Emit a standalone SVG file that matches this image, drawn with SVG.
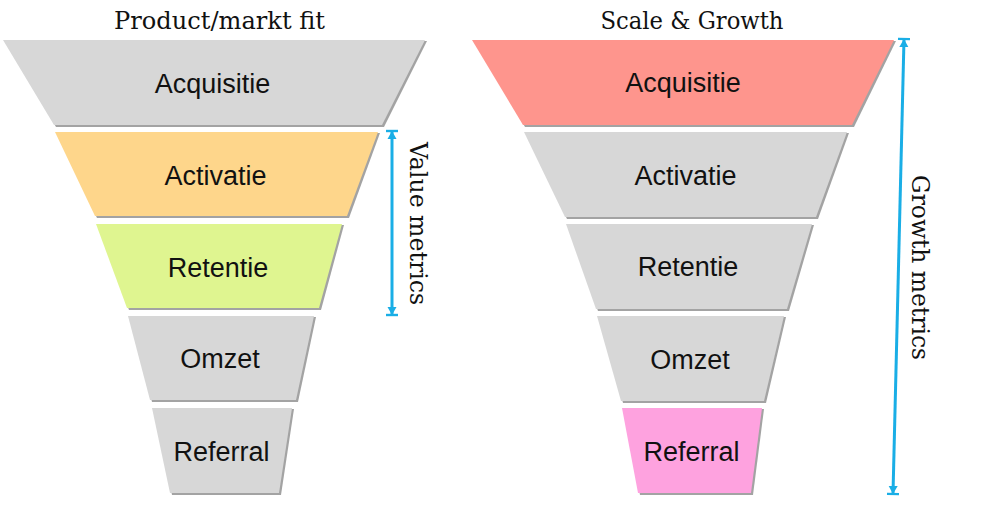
<svg xmlns="http://www.w3.org/2000/svg" width="1000" height="509" viewBox="0 0 1000 509">
  <style>
    .title { font-family: "DejaVu Serif", "Liberation Serif", serif; font-size: 24px; fill: #111; }
    .side { font-family: "DejaVu Serif", "Liberation Serif", serif; font-size: 24px; fill: #111; }
    .lbl { font-family: "Liberation Sans", Arial, sans-serif; font-size: 27px; fill: #111; text-anchor: middle; }
    .shadow { fill: #a3a3a3; }
    .gray { fill: #d7d7d7; }
    .orange { fill: #fed68b; }
    .green { fill: #dff590; }
    .red { fill: #fe958d; }
    .pink { fill: #fea2df; }
    .arrow { stroke: #1aaee6; stroke-width: 3; fill: none; marker-start: url(#cap); marker-end: url(#cap); }
  </style>
  <defs>
    <marker id="cap" markerUnits="userSpaceOnUse" markerWidth="20" markerHeight="20" refX="8" refY="0" viewBox="-2 -10 20 20" orient="auto-start-reverse" overflow="visible">
      <path d="M0,-4.5 L8,0 L0,4.5 Z" fill="#1aaee6"/>
      <path d="M8,-6 L8,6" stroke="#1aaee6" stroke-width="2.4"/>
    </marker>
  </defs>
  <rect width="1000" height="509" fill="#ffffff"/>

  <text class="title" x="219.5" y="29" text-anchor="middle" textLength="211" lengthAdjust="spacingAndGlyphs">Product/markt fit</text>
  <text class="title" x="692" y="29" text-anchor="middle" textLength="183" lengthAdjust="spacingAndGlyphs">Scale &amp; Growth</text>

  <!-- Left funnel -->
  <g id="left-acquisitie">
    <polygon class="shadow" points="5,41 427,41 384,127 56,127"/>
    <polygon class="gray" points="3,40 425,40 382,125 54,125"/>
    <text class="lbl" x="212.5" y="92.5">Acquisitie</text>
  </g>
  <g id="left-activatie">
    <polygon class="shadow" points="57,133 380,133 349,218 97,218"/>
    <polygon class="orange" points="55,132 378,132 347,216 95,216"/>
    <text class="lbl" x="215.5" y="185">Activatie</text>
  </g>
  <g id="left-retentie">
    <polygon class="shadow" points="98,225 344,225 321,310 129,310"/>
    <polygon class="green" points="96,224 342,224 319,308 127,308"/>
    <text class="lbl" x="218" y="276.5">Retentie</text>
  </g>
  <g id="left-omzet">
    <polygon class="shadow" points="130,317 316,317 298,402 152,402"/>
    <polygon class="gray" points="128,316 314,316 296,400 150,400"/>
    <text class="lbl" x="220" y="368">Omzet</text>
  </g>
  <g id="left-referral">
    <polygon class="shadow" points="154,409 294,409 281,495 172,495"/>
    <polygon class="gray" points="152,408 292,408 279,493 170,493"/>
    <text class="lbl" x="221.5" y="460.5">Referral</text>
  </g>

  <!-- Right funnel -->
  <g id="right-acquisitie">
    <polygon class="shadow" points="474,41 896,41 854,127 525,127"/>
    <polygon class="red" points="472,40 894,40 852,125 523,125"/>
    <text class="lbl" x="683" y="91.5">Acquisitie</text>
  </g>
  <g id="right-activatie">
    <polygon class="shadow" points="526,133 849,133 818,219 567,219"/>
    <polygon class="gray" points="524,132 847,132 816,217 565,217"/>
    <text class="lbl" x="685.5" y="184.5">Activatie</text>
  </g>
  <g id="right-retentie">
    <polygon class="shadow" points="568,225 814,225 789,311 598,311"/>
    <polygon class="gray" points="566,224 812,224 787,309 596,309"/>
    <text class="lbl" x="688" y="276">Retentie</text>
  </g>
  <g id="right-omzet">
    <polygon class="shadow" points="599,317 786,317 766,403 623,403"/>
    <polygon class="gray" points="597,316 784,316 764,401 621,401"/>
    <text class="lbl" x="690" y="369">Omzet</text>
  </g>
  <g id="right-referral">
    <polygon class="shadow" points="624,409 764,409 753,495 640,495"/>
    <polygon class="pink" points="622,408 762,408 751,493 638,493"/>
    <text class="lbl" x="691.5" y="460.5">Referral</text>
  </g>

  <!-- Connectors -->
  <g id="connectors">
    <path class="arrow" d="M392,131 L392,315"/>
    <path class="arrow" d="M904,39 L893,494"/>
  </g>
  <g id="metric-labels">
    <text class="side" transform="translate(410,223.5) rotate(90)" text-anchor="middle" textLength="163" lengthAdjust="spacingAndGlyphs">Value metrics</text>
    <text class="side" transform="translate(912,267.5) rotate(90)" text-anchor="middle" textLength="185" lengthAdjust="spacingAndGlyphs">Growth metrics</text>
  </g>
</svg>
